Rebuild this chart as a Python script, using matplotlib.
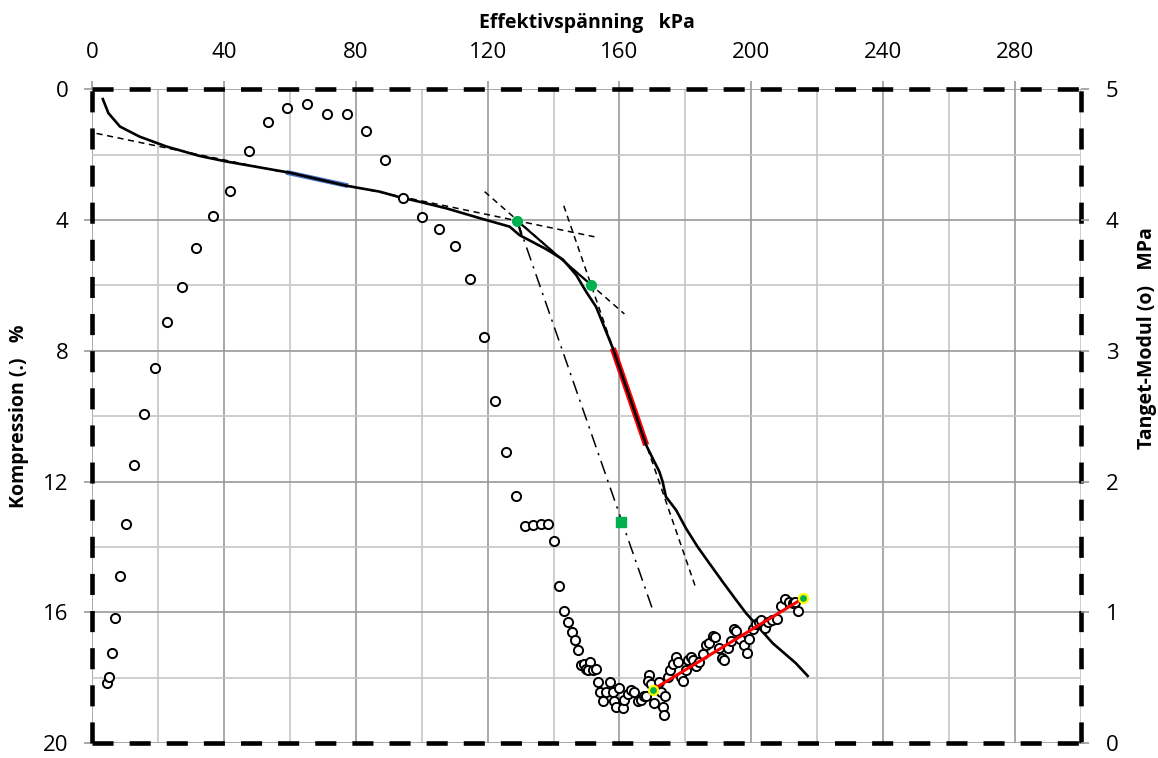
import matplotlib.pyplot as plt
from matplotlib.ticker import MultipleLocator

plt.rcParams['font.family'] = ['Open Sans', 'DejaVu Sans']

# Kompressionskurva (vänster axel, %)
curve_x = [3.3, 5.0, 8.5, 14.5, 22.6, 32.7, 40.8, 60.0, 77.2, 87.3, 93.3, 99.4, 107.5,
           117.6, 126.7, 129.7, 137.8, 142.8, 146.9, 149.9, 152.9, 157.0, 158.0, 168.1,
           170.6, 172.1, 173.1, 174.1, 177.2, 180.2, 183.7, 187.3, 191.3, 195.4, 198.4,
           206.5, 213.5, 217.1]
curve_y = [0.30, 0.73, 1.14, 1.45, 1.75, 2.04, 2.21, 2.55, 2.95, 3.13, 3.30, 3.44, 3.64,
           3.94, 4.20, 4.46, 4.89, 5.20, 5.68, 6.19, 6.65, 7.67, 7.92, 10.88,
           11.39, 11.69, 12.00, 12.46, 12.87, 13.43, 13.99, 14.50, 15.06, 15.62, 16.02,
           16.94, 17.55, 17.94]

# Tangentmodul (höger axel, MPa)
mod_x = [4.6, 5.2, 6.1, 7.0, 8.5, 10.2, 12.7, 15.7, 19.0, 22.8, 27.2, 31.7, 36.7, 41.9,
         47.6, 53.4, 59.2, 65.2, 71.3, 77.4, 83.1, 89.0, 94.5, 100.1, 105.4, 110.1,
         114.6, 118.8, 122.4, 125.7, 128.6, 131.3, 133.8, 136.1, 138.3, 140.1, 141.6,
         143.1, 144.3, 145.5, 146.6, 147.5,
         148.4, 149.1, 149.9, 151.2, 150.6, 152.1, 152.8, 153.5, 154.2, 154.9, 156.0,
         157.0, 158.0, 158.5, 159.0, 160.0, 161.0, 161.5, 162.5, 163.5, 164.5, 165.5,
         166.6, 167.6, 168.1, 169.1, 168.6, 169.6, 170.6, 172.1, 172.6, 173.1, 173.4,
         173.9, 174.6, 175.2, 176.2, 177.2, 177.7, 178.7, 179.2, 180.2, 180.7, 181.7,
         182.2, 183.2, 184.2, 185.2, 186.3, 187.1, 188.5, 189.1, 190.3, 191.1, 191.8,
         193.0, 193.8, 194.8, 195.5, 196.6, 197.9, 198.7, 199.4, 200.4, 201.4, 202.2,
         202.9, 204.2, 205.2, 206.3, 207.7, 209.0, 210.3, 211.3, 212.5, 213.3, 214.3]
mod_y = [0.46, 0.51, 0.69, 0.96, 1.28, 1.68, 2.13, 2.52, 2.87, 3.22, 3.49, 3.79, 4.03, 4.22,
         4.53, 4.75, 4.86, 4.89, 4.81, 4.81, 4.68, 4.46, 4.17, 4.02, 3.93, 3.80,
         3.55, 3.11, 2.62, 2.23, 1.89, 1.66, 1.67, 1.68, 1.68, 1.55, 1.20,
         1.01, 0.93, 0.85, 0.79, 0.71,
         0.60, 0.61, 0.57, 0.62, 0.56, 0.56, 0.57, 0.47, 0.39, 0.32, 0.39,
         0.47, 0.39, 0.32, 0.28, 0.42, 0.27, 0.33, 0.38, 0.41, 0.39, 0.32,
         0.33, 0.36, 0.36, 0.52, 0.48, 0.45, 0.31, 0.47, 0.39, 0.28, 0.22,
         0.36, 0.51, 0.56, 0.61, 0.66, 0.62, 0.51, 0.48, 0.56, 0.64, 0.66,
         0.64, 0.59, 0.62, 0.68, 0.75, 0.77, 0.82, 0.81, 0.73, 0.65, 0.64,
         0.73, 0.78, 0.87, 0.86, 0.80, 0.75, 0.69, 0.80, 0.87, 0.91, 0.93,
         0.94, 0.88, 0.93, 0.94, 0.95, 1.05, 1.10, 1.08, 1.07, 1.08, 1.01]

# Konstruktionslinjer
tan1_x, tan1_y = [1.4, 152.4], [1.35, 4.51]
tan2_x, tan2_y = [119.1, 161.5], [3.13, 6.87]
tan3_x, tan3_y = [143.1, 183.2], [3.56, 15.26]
dashdot_x, dashdot_y = [129.0, 170.1], [4.02, 15.92]
link_x, link_y = [129.0, 151.4], [4.02, 5.98]
stub_x, stub_y = [129.0, 130.2], [4.02, 4.43]
pts_x, pts_y = [129.0, 151.4], [4.02, 5.98]
sq_x, sq_y = [160.5], [13.22]
blue_x, blue_y = [59.0, 77.7], [2.54, 2.95]
red_x, red_y = [158.0, 168.1], [7.92, 10.88]
mline_x, mline_y = [170.1, 215.8], [0.41, 1.11]

green = '#00B050'

fig = plt.figure(figsize=(11.58, 7.58), dpi=100)
ax = fig.add_axes([0.0794, 0.0194, 0.8541, 0.8628])
ax2 = ax.twinx()

ax.set_xlim(0, 300)
ax.set_ylim(20, 0)
ax2.set_ylim(0, 5)

ax.xaxis.set_major_locator(MultipleLocator(40))
ax.xaxis.set_minor_locator(MultipleLocator(20))
ax.yaxis.set_major_locator(MultipleLocator(4))
ax.yaxis.set_minor_locator(MultipleLocator(2))
ax2.yaxis.set_major_locator(MultipleLocator(1))

ax.grid(which='major', color='#9a9a9a', lw=1.2, zorder=0)
ax.grid(which='minor', color='#c6c6c6', lw=1.2, zorder=0)
ax.set_axisbelow(True)

ax.xaxis.tick_top()
ax.xaxis.set_label_position('top')
ax.tick_params(which='major', length=6, width=1.2, color='#9a9a9a', labelsize=16, pad=11)
ax.tick_params(axis='x', pad=13)
ax.tick_params(which='minor', length=0)
ax2.tick_params(which='major', length=6, width=1.2, color='#9a9a9a', labelsize=16, pad=12)

for sp in ax.spines.values():
    sp.set_linestyle((0, (4.6, 3.5)))
    sp.set_linewidth(3.3)
    sp.set_capstyle('butt')
    sp.set_zorder(5)
for sp in ax2.spines.values():
    sp.set_visible(False)

ax.set_xlabel('Effektivspänning   kPa', fontsize=14, fontweight='bold', labelpad=10)
ax.set_ylabel('Kompression (.)   %', fontsize=14, fontweight='bold', labelpad=10)
ax2.set_ylabel('Tanget-Modul (o)   MPa', fontsize=14, fontweight='bold')
ax2.yaxis.set_label_coords(1.057, 0.62)

# modulpunkter
ax2.plot(mod_x, mod_y, 'o', ms=6.6, mfc='white', mec='black', mew=1.4, zorder=3)
ax2.plot(mline_x, mline_y, color='red', lw=2.2, zorder=4)
ax2.plot(mline_x, mline_y, 'o', ms=6.5, mfc=green, mec='yellow', mew=1.6, zorder=5)

# kompressionskurva och konstruktioner
ax.plot(tan1_x, tan1_y, color='black', lw=1.1, ls=(0, (4, 3)), zorder=3)
ax.plot(tan2_x, tan2_y, color='black', lw=1.1, ls=(0, (4, 3)), zorder=3)
ax.plot(tan3_x, tan3_y, color='black', lw=1.1, ls=(0, (4, 3)), zorder=3)
ax.plot(dashdot_x, dashdot_y, color='black', lw=1.1, ls=(0, (9, 4, 1.5, 4)), zorder=3)
ax.plot(blue_x, blue_y, color='#4472C4', lw=3.5, solid_capstyle='butt', zorder=3)
ax.plot(red_x, red_y, color='red', lw=4.5, solid_capstyle='butt', zorder=3)
ax.plot(curve_x, curve_y, color='black', lw=1.9, zorder=4)
ax.plot(link_x, link_y, color='black', lw=1.6, zorder=4)
ax.plot(stub_x, stub_y, color='black', lw=1.6, zorder=4)
ax.plot(pts_x, pts_y, 'o', ms=7, color=green, zorder=5)
ax.plot(sq_x, sq_y, 's', ms=7, color=green, zorder=5)

fig.savefig('out.png', dpi=100)
